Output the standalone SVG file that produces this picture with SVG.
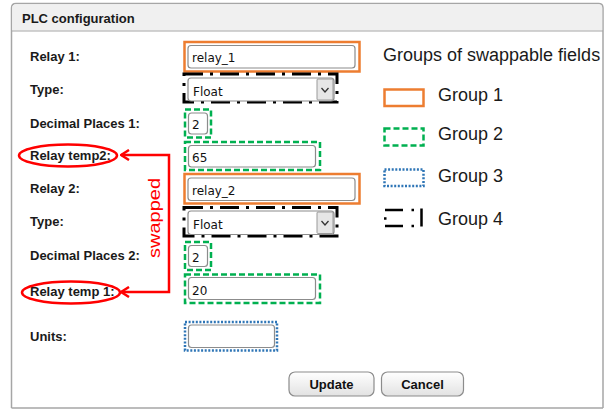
<svg xmlns="http://www.w3.org/2000/svg" width="607" height="410" viewBox="0 0 607 410">
<defs>
<style>
.lbl{font-family:"Liberation Sans",Arial,sans-serif;font-weight:bold;font-size:13px;fill:#1a1a1a}
.val{font-family:"DejaVu Sans",Verdana,sans-serif;font-size:12px;fill:#111}
.inp{fill:#fff;stroke:#8c8c8c;stroke-width:1.2}
.g1{fill:none;stroke:#ED7D31;stroke-width:2.5}
.g2{fill:none;stroke:#00B050;stroke-width:2.5;stroke-dasharray:6,3}
.g3{fill:none;stroke:#2E75B6;stroke-width:2.5;stroke-dasharray:2,1.6}
.g4{fill:none;stroke:#000;stroke-width:3;stroke-dasharray:19,7,3,7}
.leg{font-family:"Liberation Sans",Arial,sans-serif;font-size:18px;fill:#1a1a1a}
.btn{fill:url(#bg);stroke:#8c8c8c;stroke-width:1.2}
.btxt{font-family:"Liberation Sans",Arial,sans-serif;font-weight:bold;font-size:13px;fill:#111;text-anchor:middle}
.red{fill:none;stroke:#FF0000;stroke-width:2.5}
.dd{fill:#e6e6e6;stroke:#9a9a9a;stroke-width:1}
</style>
<linearGradient id="bg" x1="0" y1="0" x2="0" y2="1">
<stop offset="0" stop-color="#ffffff"/>
<stop offset="1" stop-color="#e2e2e2"/>
</linearGradient>
<marker id="arr" viewBox="0 0 12 12" refX="10.5" refY="6" markerWidth="12" markerHeight="12" markerUnits="userSpaceOnUse" orient="auto-start-reverse">
<path d="M2.5,1 L10.5,6 L2.5,11" fill="none" stroke="#FF0000" stroke-width="2.5"/>
</marker>
</defs>

<rect x="0" y="0" width="607" height="410" fill="#fff"/>

<g id="panel">
<path d="M11.5,408 V8 Q11.5,3.5 16,3.5 H598.5 Q603,3.5 603,8 V408" fill="none" stroke="#a6a6a6" stroke-width="1.5"/>
<path d="M12.3,30.5 V8 Q12.3,4.3 16,4.3 H598.5 Q602.2,4.3 602.2,8 V30.5 Z" fill="#f0f0f0"/>
<line x1="11.5" y1="31" x2="603" y2="31" stroke="#a6a6a6" stroke-width="1.2"/>
<line x1="11.5" y1="408" x2="603" y2="408" stroke="#a6a6a6" stroke-width="1.5"/>
<text x="22" y="22.5" font-family="Liberation Sans, Arial, sans-serif" font-weight="bold" font-size="13" fill="#1a1a1a">PLC configuration</text>
</g>

<g id="row-relay1">
<text class="lbl" x="30" y="61">Relay 1:</text>
<rect class="inp" x="188" y="45.5" width="167" height="22.5" rx="3"/>
<text class="val" x="192" y="61.5">relay_1</text>
<rect class="g1" x="184.5" y="42" width="175" height="29.5"/>
</g>

<g id="row-type1">
<text class="lbl" x="30" y="94">Type:</text>
<rect class="g4" x="184" y="74" width="153" height="28"/>
<rect class="inp" x="188" y="78" width="146" height="23" rx="3"/>
<rect class="dd" x="317" y="79" width="16" height="21" rx="1"/>
<path d="M321.5,88 L325,92 L328.5,88" fill="none" stroke="#333" stroke-width="1.3"/>
<text class="val" x="193" y="95.5">Float</text>
</g>

<g id="row-dec1">
<text class="lbl" x="30" y="128">Decimal Places 1:</text>
<rect class="inp" x="188.5" y="113" width="19" height="21" rx="3"/>
<text class="val" x="192" y="129">2</text>
<rect class="g2" x="185" y="109.5" width="26" height="28"/>
</g>

<g id="row-temp2">
<text class="lbl" x="30" y="160">Relay temp2:</text>
<rect class="inp" x="188.5" y="145.5" width="127" height="21.5" rx="3"/>
<text class="val" x="192" y="161.5">65</text>
<rect class="g2" x="185" y="142" width="135" height="28"/>
</g>

<g id="row-relay2">
<text class="lbl" x="30" y="193">Relay 2:</text>
<rect class="inp" x="188" y="178" width="167" height="22.5" rx="3"/>
<text class="val" x="192" y="195">relay_2</text>
<rect class="g1" x="184.5" y="174" width="175" height="29.5"/>
</g>

<g id="row-type2">
<text class="lbl" x="30" y="225.5">Type:</text>
<rect class="g4" x="184" y="207.5" width="153" height="28.5"/>
<rect class="inp" x="188" y="211" width="146" height="23.5" rx="3"/>
<rect class="dd" x="317" y="212" width="16" height="21.5" rx="1"/>
<path d="M321.5,221 L325,225 L328.5,221" fill="none" stroke="#333" stroke-width="1.3"/>
<text class="val" x="193" y="229">Float</text>
</g>

<g id="row-dec2">
<text class="lbl" x="30" y="260">Decimal Places 2:</text>
<rect class="inp" x="188.5" y="245.5" width="19" height="21" rx="3"/>
<text class="val" x="192" y="262">2</text>
<rect class="g2" x="185" y="242" width="26" height="28"/>
</g>

<g id="row-temp1">
<text class="lbl" x="30" y="296">Relay temp 1:</text>
<rect class="inp" x="188.5" y="277.5" width="127" height="22" rx="3"/>
<text class="val" x="192" y="294.5">20</text>
<rect class="g2" x="185" y="274.5" width="135" height="28.5"/>
</g>

<g id="row-units">
<text class="lbl" x="30" y="341">Units:</text>
<rect class="inp" x="188.5" y="325" width="86" height="22.5" rx="3"/>
<rect class="g3" x="185" y="322" width="92" height="28.5"/>
</g>

<g id="btn-update">
<rect class="btn" x="289" y="372" width="85" height="24" rx="6"/>
<text class="btxt" x="331.5" y="389">Update</text>
</g>
<g id="btn-cancel">
<rect class="btn" x="381.5" y="372" width="82" height="24" rx="6"/>
<text class="btxt" x="422.5" y="389">Cancel</text>
</g>

<g id="mark-temp2">
<ellipse class="red" cx="68" cy="155.5" rx="49" ry="11"/>
</g>
<g id="mark-temp1">
<ellipse class="red" cx="71" cy="292.5" rx="49" ry="11"/>
</g>

<g id="connectors">
<path class="red" d="M121,155 H169 V292 H121" marker-start="url(#arr)" marker-end="url(#arr)"/>
<text transform="translate(159.5,218) rotate(-90)" x="0" y="0" text-anchor="middle" font-family="Liberation Sans, Arial, sans-serif" font-size="16" fill="#FF0000" textLength="80" lengthAdjust="spacingAndGlyphs">swapped</text>
</g>

<g id="legend">
<text class="leg" x="383" y="60.5">Groups of swappable fields</text>
<rect class="g1" x="384.5" y="89.5" width="39" height="16.5"/>
<text class="leg" x="438" y="100.5">Group 1</text>
<rect class="g2" x="384.5" y="128.5" width="39" height="17"/>
<text class="leg" x="438" y="140">Group 2</text>
<rect class="g3" x="384.5" y="169.5" width="39" height="16.5"/>
<text class="leg" x="438" y="181.5">Group 3</text>
<g fill="none" stroke="#000" stroke-width="2.5">
<path d="M385,210 H403 M385,226 H403 M411.5,210 H414 M411.5,226 H414 M384,218.5 H386.5 M421.5,208.5 V226.5"/>
</g>
<text class="leg" x="438" y="225">Group 4</text>
</g>
</svg>
